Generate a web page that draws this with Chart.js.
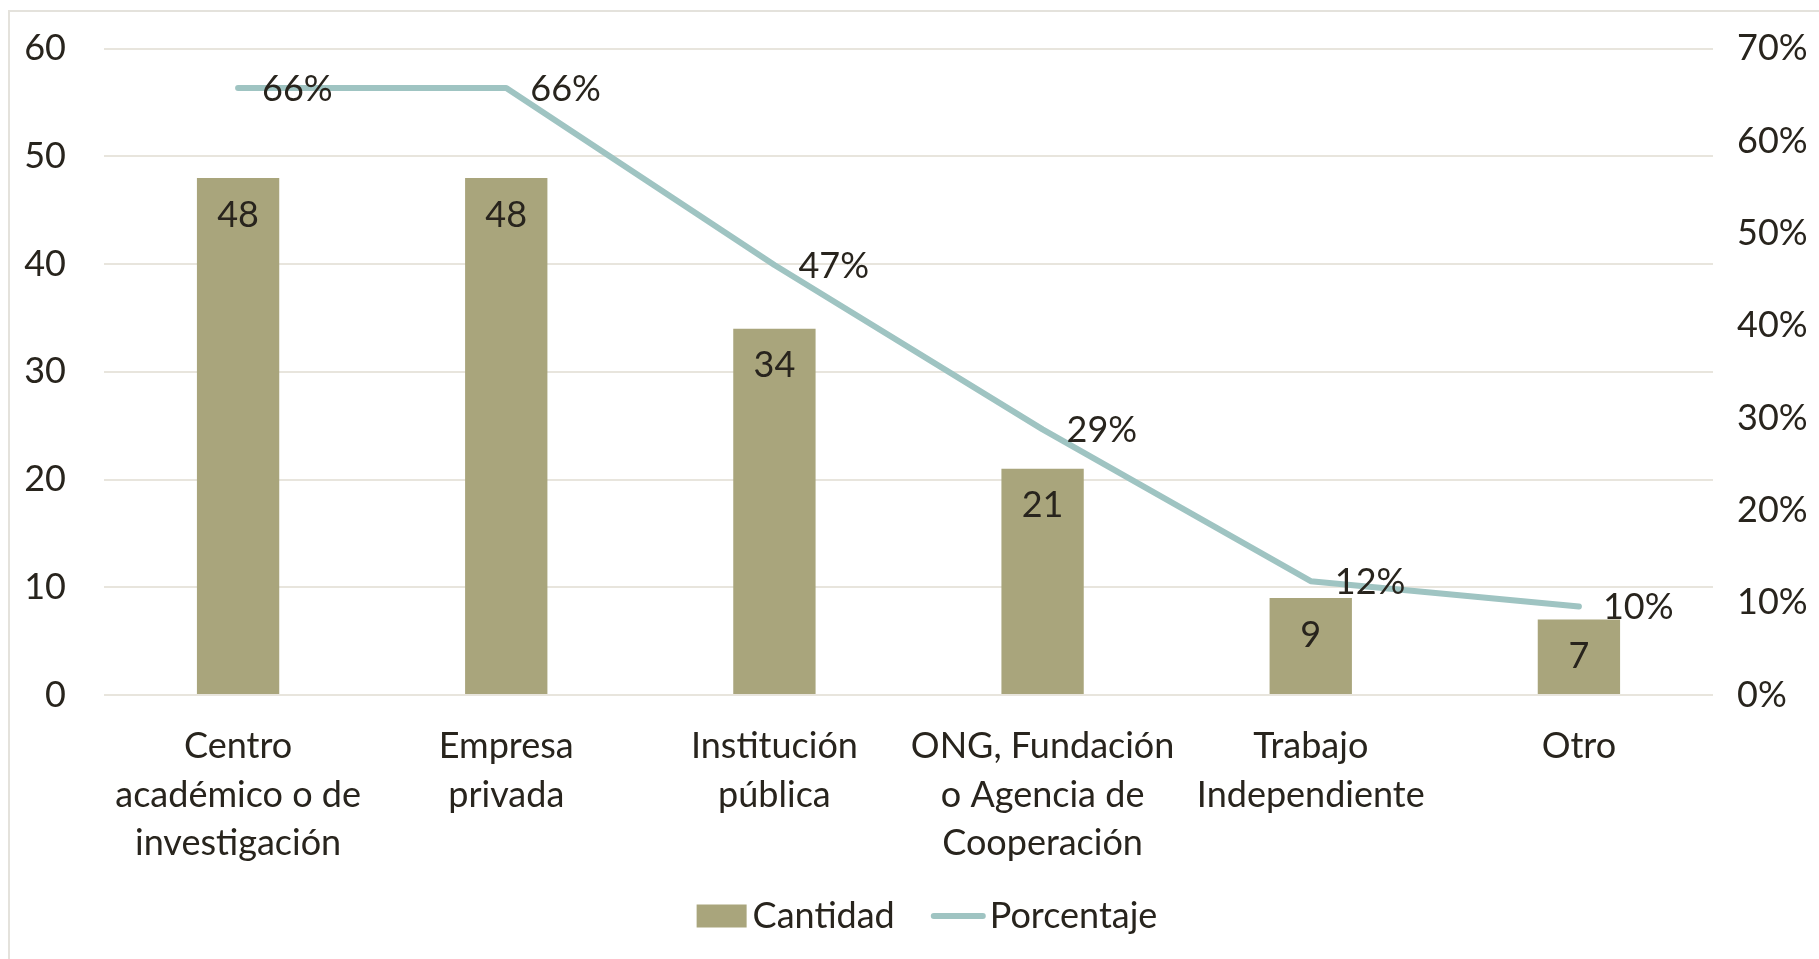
<!DOCTYPE html>
<html>
<head>
<meta charset="utf-8">
<script src="https://cdn.jsdelivr.net/npm/chart.js@4"></script>
<style>
  body { margin: 0; background: #fff; overflow: hidden; }
  #frame { position: absolute; left: 8px; top: 10px; width: 1900px; height: 1000px; border: 2px solid #e4e2dc; }
  #wrap { position: absolute; left: 0; top: 0; width: 1819px; height: 959px; }
</style>
</head>
<body>
<div id="frame"></div>
<div id="wrap"><canvas id="chart" width="1819" height="959"></canvas></div>
<script>
// datos
const categorias = [
    ['Centro', 'académico o de', 'investigación'],
    ['Empresa', 'privada'],
    ['Institución', 'pública'],
    ['ONG, Fundación', 'o Agencia de', 'Cooperación'],
    ['Trabajo', 'Independiente'],
    ['Otro']
];
const cantidad = [48, 48, 34, 21, 9, 7];
const porcentaje = [0.6575, 0.6575, 0.4658, 0.2877, 0.1233, 0.0959];
const ticksIzq = [0, 10, 20, 30, 40, 50, 60];
const ticksDer = [0, 0.1, 0.2, 0.3, 0.4, 0.5, 0.6, 0.7];

const FONT = 'Lato, "Open Sans", sans-serif';
const FSIZE = 36;
const TEXT = '#28241d';
const BAR_COLOR = '#a9a57c';
const LINE_COLOR = '#9fc4c2';

// etiquetas de datos + leyenda
const etiquetas = {
    id: 'etiquetas',
    afterDatasetsDraw(chart) {
        const ctx = chart.ctx;
        ctx.save();
        ctx.font = FSIZE + 'px ' + FONT;
        ctx.fillStyle = TEXT;
        ctx.textBaseline = 'middle';

        const barras = chart.getDatasetMeta(0).data;
        ctx.textAlign = 'center';
        barras.forEach((b, i) => {
            ctx.fillText(String(cantidad[i]), b.x, b.y + 37);
        });

        const puntos = chart.getDatasetMeta(1).data;
        ctx.textAlign = 'left';
        puntos.forEach((p, i) => {
            ctx.fillText(Math.round(porcentaje[i] * 100) + '%', p.x + 24, p.y + 1);
        });
        ctx.restore();
    },
    afterDraw(chart) {
        // leyenda
        const ctx = chart.ctx;
        const ds = chart.data.datasets;
        ctx.save();
        ctx.font = FSIZE + 'px ' + FONT;
        ctx.textBaseline = 'middle';
        ctx.textAlign = 'left';
        const cy = 916;
        const w1 = ctx.measureText(ds[0].label).width;
        const w2 = ctx.measureText(ds[1].label).width;
        const total = 50 + 6 + w1 + 36 + 55 + 4 + w2;
        let x = 927 - total / 2;
        ctx.fillStyle = ds[0].backgroundColor;
        ctx.fillRect(x, cy - 11.5, 50, 23);
        x += 56;
        ctx.fillStyle = TEXT;
        ctx.fillText(ds[0].label, x, cy);
        x += w1 + 36;
        ctx.strokeStyle = ds[1].borderColor;
        ctx.lineWidth = ds[1].borderWidth;
        ctx.lineCap = 'round';
        ctx.beginPath();
        ctx.moveTo(x + 3, cy);
        ctx.lineTo(x + 52, cy);
        ctx.stroke();
        x += 59;
        ctx.fillText(ds[1].label, x, cy);
        ctx.restore();
    }
};

const ctx = document.getElementById('chart').getContext('2d');
new Chart(ctx, {
    data: {
        labels: categorias,
        datasets: [
            {
                type: 'bar',
                label: 'Cantidad',
                data: cantidad,
                backgroundColor: BAR_COLOR,
                yAxisID: 'y',
                categoryPercentage: 1,
                barPercentage: 0.307,
                order: 2
            },
            {
                type: 'line',
                label: 'Porcentaje',
                data: porcentaje,
                borderColor: LINE_COLOR,
                backgroundColor: LINE_COLOR,
                borderWidth: 6,
                borderCapStyle: 'round',
                borderJoinStyle: 'round',
                pointRadius: 0,
                pointHoverRadius: 0,
                tension: 0,
                yAxisID: 'y1',
                order: 1
            }
        ]
    },
    options: {
        responsive: false,
        animation: false,
        layout: { padding: { top: 48.7, left: 0, right: 0, bottom: 0 } },
        plugins: {
            tooltip: { enabled: false },
            legend: { display: false }
        },
        scales: {
            x: {
                grid: { display: false, drawTicks: false },
                border: { display: false },
                ticks: {
                    color: TEXT,
                    font: { family: FONT, size: FSIZE, lineHeight: 1.35 },
                    padding: 27,
                    maxRotation: 0,
                    autoSkip: false
                },
                afterFit(scale) { scale.height = 264; }
            },
            y: {
                position: 'left',
                min: 0,
                max: 60,
                afterBuildTicks(scale) { scale.ticks = ticksIzq.map(v => ({ value: v })); },
                grid: { color: '#e8e5dd', lineWidth: 2, drawTicks: false },
                border: { display: false },
                ticks: {
                    color: TEXT,
                    font: { family: FONT, size: FSIZE },
                    padding: 38
                },
                afterFit(scale) {
                    scale.width = 104;
                    scale.paddingTop = 0;
                    scale.paddingBottom = 0;
                }
            },
            y1: {
                position: 'right',
                min: 0,
                max: 0.7,
                afterBuildTicks(scale) { scale.ticks = ticksDer.map(v => ({ value: v })); },
                grid: { display: false, drawTicks: false },
                border: { display: false },
                ticks: {
                    color: TEXT,
                    font: { family: FONT, size: FSIZE },
                    padding: 24,
                    callback: v => Math.round(v * 100) + '%'
                },
                afterFit(scale) {
                    scale.width = 106;
                    scale.paddingTop = 0;
                    scale.paddingBottom = 0;
                }
            }
        }
    },
    plugins: [etiquetas]
});
</script>
</body>
</html>
